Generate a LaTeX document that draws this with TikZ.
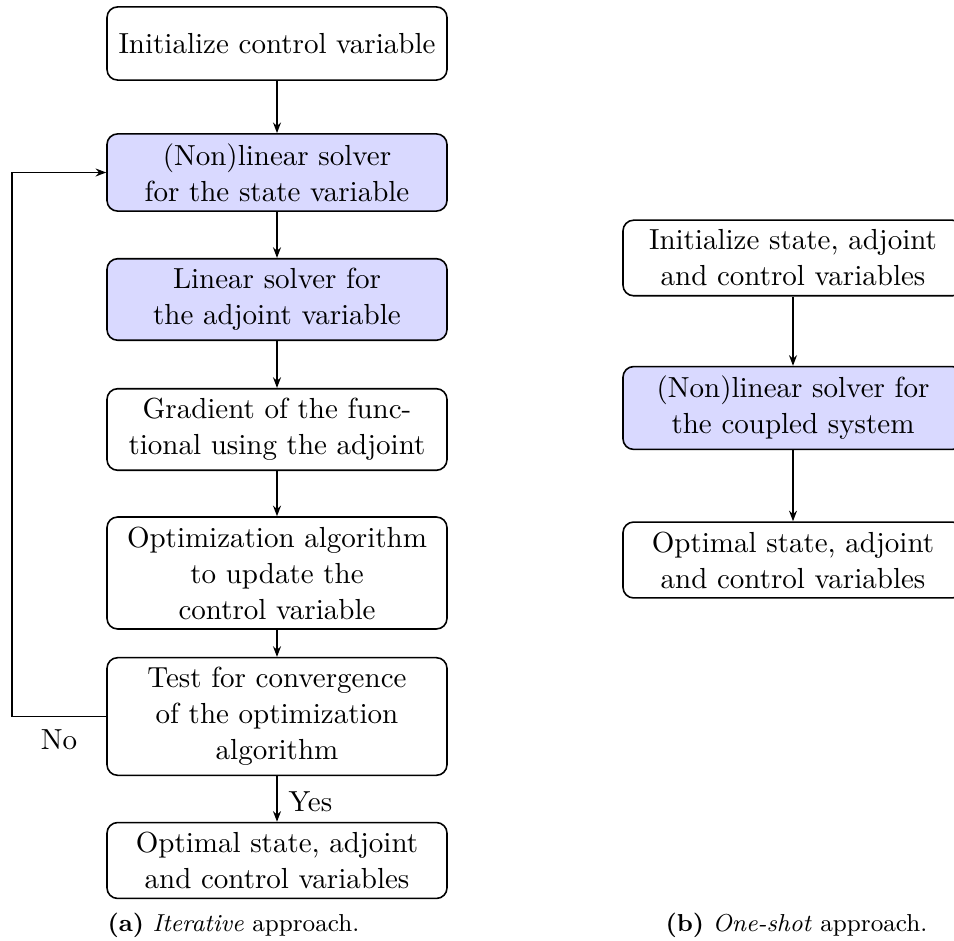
\documentclass[tikz,border=0pt]{standalone}
\usetikzlibrary{arrows.meta}
\begin{document}
\begin{tikzpicture}[x=0.37736pt,y=-0.37736pt,
  flowbox/.style={draw,line width=0.6pt,rounded corners=4pt,align=center,
    text width=122.3pt,inner xsep=3pt,inner ysep=3.6pt,minimum height=27.6pt,
    font=\fontsize{10.95}{13.6}\selectfont},
  solverbox/.style={flowbox,fill=blue!15},
  arr/.style={line width=0.6pt,-{Stealth[length=4pt,width=3pt]}},
  lbl/.style={font=\fontsize{10.95}{13.6}\selectfont,inner sep=0pt},
  captext/.style={font=\fontsize{9.25}{11}\selectfont,inner sep=0pt,anchor=west}]
\useasboundingbox (0,0) rectangle (954,941);
% (a) iterative
\node[flowbox]   (b1) at (277,43.5)  {Initialize control variable};
\node[solverbox] (b2) at (277,172.5) {(Non)linear solver\\for the state variable};
\node[solverbox] (b3) at (277,299.5) {Linear solver for\\the adjoint variable};
\node[flowbox]   (b4) at (277,429.5) {Gradient of the func-\\tional using the adjoint};
\node[flowbox]   (b5) at (277,573)   {Optimization algorithm\\to update the\\control variable};
\node[flowbox]   (b6) at (277,716.5) {Test for convergence\\of the optimization\\algorithm};
\node[flowbox]   (b7) at (277,860.5) {Optimal state, adjoint\\and control variables};
\draw[arr] (b1) -- (b2);
\draw[arr] (b2) -- (b3);
\draw[arr] (b3) -- (b4);
\draw[arr] (b4) -- (b5);
\draw[arr] (b5) -- (b6);
\draw[arr] (b6) -- (b7);
\coordinate (lp) at (12,0);
\draw[arr] (b6.west) -- (b6.west -| lp) -- (b2.west -| lp) -- (b2.west);
\node[lbl] (no) at (59,740) {No};
\node[lbl,anchor=west] (yes) at (288,802) {Yes};
\node[captext] (capa) at (107,925) {\textbf{(a)} \textit{Iterative} approach.};
% (b) one-shot
\node[flowbox]   (r1) at (793,258) {Initialize state, adjoint\\and control variables};
\node[solverbox] (r2) at (793,408) {(Non)linear solver for\\the coupled system};
\node[flowbox]   (r3) at (793,560) {Optimal state, adjoint\\and control variables};
\draw[arr] (r1) -- (r2);
\draw[arr] (r2) -- (r3);
\node[captext] (capb) at (665,925) {\textbf{(b)} \textit{One-shot} approach.};
\end{tikzpicture}
\end{document}
